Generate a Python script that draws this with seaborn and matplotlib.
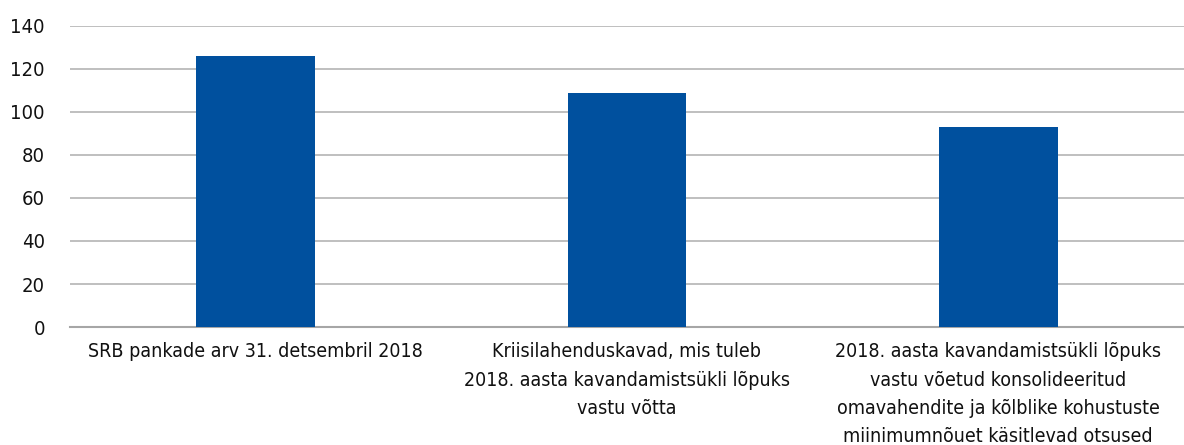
import matplotlib
matplotlib.use("Agg")
import matplotlib.pyplot as plt
import seaborn as sns
import pandas as pd

# categories and values
categories = [
    "SRB pankade arv 31. detsembril 2018",
    "Kriisilahenduskavad, mis tuleb\n2018. aasta kavandamistsükli lõpuks\nvastu võtta",
    "2018. aasta kavandamistsükli lõpuks\nvastu võetud konsolideeritud\nomavahendite ja kõlblike kohustuste\nmiinimumnõuet käsitlevad otsused",
]
values = [126, 109, 93]
yticks = [0, 20, 40, 60, 80, 100, 120, 140]

df = pd.DataFrame({"cat": categories, "val": values})

sns.set_theme(style="white")
plt.rcParams["font.family"] = ["DejaVu Sans", "Noto Sans"]
plt.rcParams["font.stretch"] = "condensed"

fig = plt.figure(figsize=(11.84, 4.45), dpi=100)
ax = fig.add_axes([0.059, 0.265, 0.941, 0.677])

sns.barplot(data=df, x="cat", y="val", color="#00509e", saturation=1,
            width=0.32, linewidth=0, ax=ax, zorder=3)

ax.set_ylim(0, 140)
ax.set_yticks(yticks)
ax.set_xlim(-0.5, 2.5)
ax.yaxis.grid(True, color="#adadad", linewidth=1.1, zorder=0)
ax.set_axisbelow(True)
for s in ["top", "right", "left"]:
    ax.spines[s].set_visible(False)
ax.spines["bottom"].set_color("#a6a6a6")
ax.spines["bottom"].set_linewidth(1.5)
ax.tick_params(axis="both", length=0, labelsize=14, colors="#111111")
ax.tick_params(axis="y", labelsize=14.5, pad=18)
ax.tick_params(axis="x", pad=11)
ax.set_xlabel("")
ax.set_ylabel("")
for lbl in ax.get_xticklabels():
    lbl.set_linespacing(1.62)

fig.savefig("out.png", dpi=100)
